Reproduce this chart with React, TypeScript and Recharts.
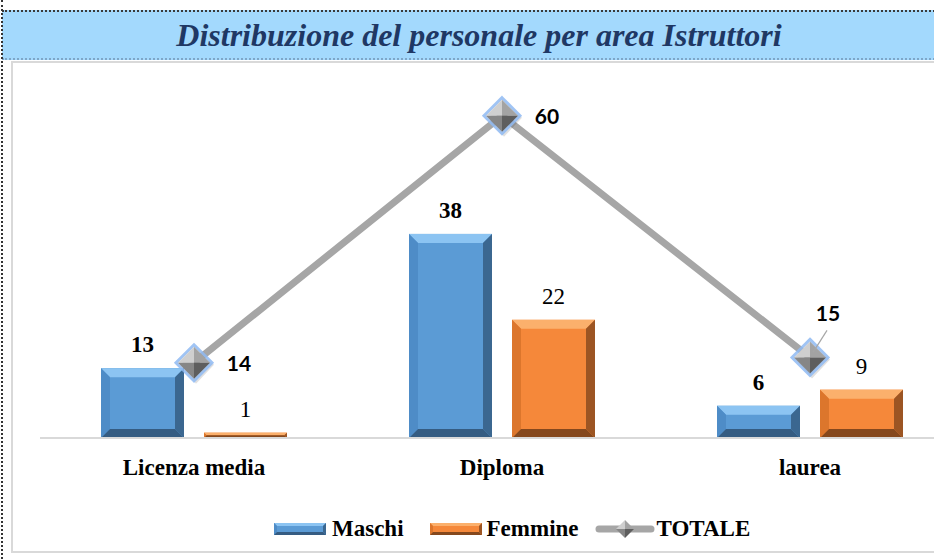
import React from "react";
import { ComposedChart, Bar, Line, XAxis, YAxis, Legend, LabelList } from "recharts";

const categories = ["Licenza media", "Diploma", "laurea"];
const maschi = [13, 38, 6];
const femmine = [1, 22, 9];
const totale = [14, 60, 15];

const data = categories.map((name, i) => ({
  name,
  Maschi: maschi[i],
  Femmine: femmine[i],
  TOTALE: totale[i],
}));

const serif = '"Liberation Serif", "Times New Roman", serif';
const sans = 'Lato, "Open Sans", sans-serif';

const blue = { main: "#5b9bd5", top: "#8cc4f2", left: "#4e8cc7", right: "#3b6790", bottom: "#355c82" };
const orange = { main: "#f5883a", top: "#fbb06c", left: "#dc762c", right: "#9c5523", bottom: "#85481d" };

const bevelPolys = (x: number, y: number, w: number, h: number, b: number, c: any) => (
  <g>
    <rect x={x} y={y} width={w} height={h} fill={c.main} />
    <polygon points={`${x},${y} ${x + w},${y} ${x + w - b},${y + b} ${x + b},${y + b}`} fill={c.top} />
    <polygon points={`${x},${y} ${x + b},${y + b} ${x + b},${y + h - b} ${x},${y + h}`} fill={c.left} />
    <polygon points={`${x + w},${y} ${x + w},${y + h} ${x + w - b},${y + h - b} ${x + w - b},${y + b}`} fill={c.right} />
    <polygon points={`${x},${y + h} ${x + b},${y + h - b} ${x + w - b},${y + h - b} ${x + w},${y + h}`} fill={c.bottom} />
  </g>
);

const bevelShape = (c: any) => (props: any) => {
  const { x, y, width, height } = props;
  if (!height || height <= 0) return <g />;
  const b = Math.min(9, height / 2, width / 2);
  return bevelPolys(x, y, width, height, b, c);
};

const diamondFaces = (cx: number, cy: number, r: number) => {
  const T = `${cx},${cy - r}`;
  const R = `${cx + r},${cy}`;
  const B = `${cx},${cy + r}`;
  const L = `${cx - r},${cy}`;
  const C = `${cx},${cy}`;
  return (
    <g>
      <polygon points={`${L} ${T} ${C}`} fill="#cfcfcf" />
      <polygon points={`${T} ${R} ${C}`} fill="#a3a3a3" />
      <polygon points={`${L} ${B} ${C}`} fill="#868686" />
      <polygon points={`${R} ${B} ${C}`} fill="#5e5e5e" />
    </g>
  );
};

const Diamond = (props: any) => {
  const { cx, cy } = props;
  if (cx == null || cy == null) return <g />;
  const r = 16;
  return (
    <g>
      <polygon
        points={`${cx + 2},${cy - r + 4} ${cx + r + 4},${cy + 2} ${cx + 2},${cy + r + 5} ${cx - r + 2},${cy + 2}`}
        fill="#000"
        opacity={0.12}
      />
      <polygon
        points={`${cx},${cy - r - 2} ${cx + r + 2},${cy} ${cx},${cy + r + 2} ${cx - r - 2},${cy}`}
        fill="none"
        stroke="#8fbaf2"
        strokeWidth={3}
        opacity={0.85}
      />
      {diamondFaces(cx, cy, r)}
    </g>
  );
};

const barLabel = (bold: boolean) => (props: any) => {
  const { x, y, width, value } = props;
  return (
    <text
      x={x + width / 2}
      y={y - 24}
      dy="0.35em"
      textAnchor="middle"
      fontFamily={serif}
      fontWeight={bold ? 700 : 400}
      fontSize={23}
      fill="#000"
    >
      {value}
    </text>
  );
};

const totalLabel = (props: any) => {
  const { x, y, value, index } = props;
  if (index === 2) {
    return (
      <g>
        <line x1={x + 17} y1={y - 27} x2={x + 3} y2={y - 5} stroke="#a6a6a6" strokeWidth={1.2} />
        <text x={x + 18} y={y - 44} dy="0.35em" textAnchor="middle" fontFamily={sans} fontWeight={700} fontSize={21} fill="#000">
          {value}
        </text>
      </g>
    );
  }
  return (
    <text x={x + 45} y={y + 1} dy="0.35em" textAnchor="middle" fontFamily={sans} fontWeight={700} fontSize={21} fill="#000">
      {value}
    </text>
  );
};

const CategoryTick = (props: any) => {
  const { x, y, payload } = props;
  return (
    <text x={x} y={y + 21} dy="0.35em" textAnchor="middle" fontFamily={serif} fontWeight={700} fontSize={23} fill="#000">
      {payload.value}
    </text>
  );
};

const renderLegend = () => (
  <div
    style={{
      display: "flex",
      alignItems: "center",
      height: 61,
      paddingLeft: 274,
      boxSizing: "border-box",
      fontFamily: serif,
      fontWeight: 700,
      fontSize: 23,
      color: "#000",
    }}
  >
    <svg width={52} height={12}>{bevelPolys(0, 0, 52, 12, 3, blue)}</svg>
    <span style={{ marginLeft: 6, marginRight: 26 }}>Maschi</span>
    <svg width={52} height={12}>{bevelPolys(0, 0, 52, 12, 3, orange)}</svg>
    <span style={{ marginLeft: 5, marginRight: 16 }}>Femmine</span>
    <svg width={60} height={20}>
      <line x1={4} y1={10} x2={56} y2={10} stroke="#a6a6a6" strokeWidth={7} strokeLinecap="round" />
      {diamondFaces(30, 10, 9)}
    </svg>
    <span style={{ marginLeft: 2 }}>TOTALE</span>
  </div>
);

export default function App() {
  return (
    <div style={{ position: "fixed", left: 0, top: 0, width: 934, height: 559, overflow: "hidden", background: "#fff" }}>
      <div style={{ position: "absolute", left: 11, top: 61, width: 960, height: 488, border: "2px solid #d9d9d9" }} />
      <div
        style={{
          position: "absolute",
          left: 2,
          top: 10,
          width: 940,
          height: 50,
          background: "#a3d9fd",
          borderTop: "2px dotted #3a3a3a",
          borderBottom: "2px dotted #7ea6c8",
          boxSizing: "border-box",
          textAlign: "center",
          lineHeight: "46px",
          fontFamily: serif,
          fontWeight: 700,
          fontStyle: "italic",
          fontSize: 32,
          color: "#1f3864",
          paddingLeft: 14,
        }}
      >
        Distribuzione del personale per area Istruttori
      </div>
      <div style={{ position: "absolute", left: 1, top: 0, width: 0, height: 559, borderLeft: "2px dotted #333" }} />
      <div style={{ position: "absolute", left: 0, top: 0 }}>
        <ComposedChart
          width={975}
          height={559}
          data={data}
          margin={{ top: 62, right: 11, left: 40, bottom: 0 }}
          barGap={20}
        >
          <XAxis
            dataKey="name"
            height={60}
            tickLine={false}
            axisLine={{ stroke: "#d9d9d9", strokeWidth: 2 }}
            tick={<CategoryTick />}
            interval={0}
          />
          <YAxis hide domain={[0, 70]} />
          <Legend
            verticalAlign="bottom"
            content={renderLegend}
            wrapperStyle={{ left: 0, width: 934 }}
          />
          <Bar dataKey="Maschi" barSize={83} shape={bevelShape(blue)} isAnimationActive={false}>
            <LabelList dataKey="Maschi" content={barLabel(true)} />
          </Bar>
          <Bar dataKey="Femmine" barSize={83} shape={bevelShape(orange)} isAnimationActive={false}>
            <LabelList dataKey="Femmine" content={barLabel(false)} />
          </Bar>
          <Line
            dataKey="TOTALE"
            stroke="#a6a6a6"
            strokeWidth={7}
            dot={<Diamond />}
            activeDot={false}
            isAnimationActive={false}
          >
            <LabelList dataKey="TOTALE" content={totalLabel} />
          </Line>
        </ComposedChart>
      </div>
    </div>
  );
}
